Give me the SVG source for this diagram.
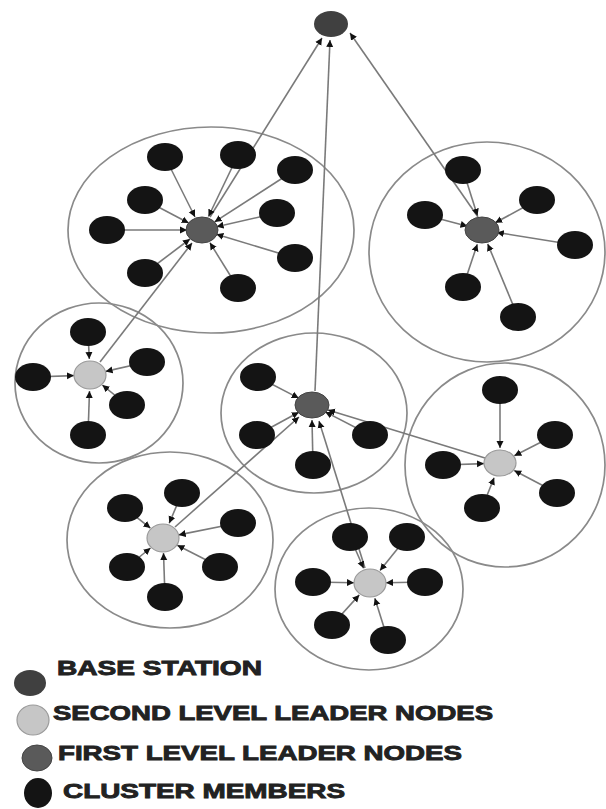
<svg xmlns="http://www.w3.org/2000/svg" width="606" height="809" viewBox="0 0 606 809">
<style>
.cl{fill:none;stroke:#8a8a8a;stroke-width:1.7}
.ln{stroke:#7a7a7a;stroke-width:1.6;fill:none}
.m{fill:#141414}
.bs{fill:#404040}
.f1{fill:#5a5a5a;stroke:#444;stroke-width:1}
.f2{fill:#c6c6c6;stroke:#9a9a9a;stroke-width:1.2}
.tx{font-family:"Liberation Sans",Arial,sans-serif;font-weight:bold;font-size:21px;fill:#222;stroke:#222;stroke-width:0.9}
</style>
<defs>
<marker id="ah" markerUnits="userSpaceOnUse" markerWidth="8" markerHeight="8" refX="7" refY="4" orient="auto">
<path d="M0,0.5 L7,4 L0,7.5 z" fill="#111"/>
</marker>
</defs>
<rect width="606" height="809" fill="#fff"/>
<g id="clusters">
<ellipse class="cl" cx="211" cy="230" rx="143" ry="103"/>
<ellipse class="cl" cx="487" cy="252" rx="118" ry="110"/>
<ellipse class="cl" cx="99" cy="383" rx="84" ry="80"/>
<ellipse class="cl" cx="314" cy="413" rx="93" ry="80"/>
<ellipse class="cl" cx="505" cy="465" rx="100" ry="102"/>
<ellipse class="cl" cx="170" cy="540" rx="103" ry="88"/>
<ellipse class="cl" cx="369" cy="589" rx="94" ry="81"/>
</g>
<g id="connectors" class="ln" marker-end="url(#ah)">
<!-- leaders to base station -->
<line x1="210" y1="217" x2="322" y2="38"/>
<line x1="478" y1="217" x2="350" y2="33"/>
<line x1="315" y1="391" x2="330" y2="40"/>
<!-- second level to first level -->
<line x1="100" y1="362" x2="192" y2="243"/>
<line x1="485" y1="458" x2="328" y2="410"/>
<line x1="175" y1="527" x2="299" y2="417"/>
<line x1="365" y1="568" x2="319" y2="421"/>
<!-- cluster 1 -->
<line x1="165" y1="157" x2="195" y2="217"/>
<line x1="238" y1="155" x2="208.5" y2="216.5"/>
<line x1="295" y1="170" x2="214.6" y2="221.9"/>
<line x1="145" y1="200" x2="188.7" y2="223"/>
<line x1="277" y1="213" x2="216.6" y2="226.7"/>
<line x1="107" y1="230" x2="187" y2="230"/>
<line x1="145" y1="273" x2="190" y2="239"/>
<line x1="295" y1="258" x2="216.4" y2="234.3"/>
<line x1="238" y1="288" x2="209.9" y2="242.7"/>
<!-- cluster 3 -->
<line x1="463" y1="170" x2="477.5" y2="215.7"/>
<line x1="537" y1="200" x2="495.2" y2="222.8"/>
<line x1="425" y1="215" x2="467.5" y2="226.2"/>
<line x1="575" y1="245" x2="496.8" y2="232.4"/>
<line x1="463" y1="287" x2="477.3" y2="244.2"/>
<line x1="518" y1="317" x2="487.7" y2="243.9"/>
<!-- cluster 4 -->
<line x1="258" y1="377" x2="298.7" y2="398.1"/>
<line x1="257" y1="435" x2="298.8" y2="412.2"/>
<line x1="370" y1="435" x2="325.3" y2="411.9"/>
<line x1="313" y1="465" x2="312" y2="420"/>
<!-- cluster 2 -->
<line x1="88" y1="332" x2="89.3" y2="359"/>
<line x1="147" y1="362" x2="105.6" y2="371.4"/>
<line x1="33" y1="377" x2="74" y2="375.6"/>
<line x1="127" y1="405" x2="102.4" y2="385.1"/>
<line x1="88" y1="435" x2="89.5" y2="391"/>
<!-- cluster 5 -->
<line x1="500" y1="390" x2="500" y2="448"/>
<line x1="555" y1="435" x2="514.3" y2="455.7"/>
<line x1="443" y1="465" x2="484" y2="463.6"/>
<line x1="557" y1="493" x2="514.2" y2="470.5"/>
<line x1="482" y1="508" x2="494.1" y2="477.8"/>
<!-- cluster 6 -->
<line x1="182" y1="493" x2="169.2" y2="523.2"/>
<line x1="125" y1="508" x2="150.4" y2="528.1"/>
<line x1="238" y1="523" x2="178.7" y2="534.9"/>
<line x1="127" y1="567" x2="150.5" y2="548"/>
<line x1="220" y1="567" x2="177.3" y2="545.3"/>
<line x1="165" y1="597" x2="163.5" y2="553"/>
<!-- cluster 7 -->
<line x1="350" y1="537" x2="363.6" y2="568.3"/>
<line x1="407" y1="537" x2="380" y2="570.5"/>
<line x1="313" y1="582" x2="354" y2="582.7"/>
<line x1="425" y1="582" x2="386" y2="582.7"/>
<line x1="332" y1="625" x2="359.3" y2="594.9"/>
<line x1="388" y1="640" x2="374.8" y2="598.2"/>
</g>
<g id="base-station"><ellipse class="bs" cx="331" cy="24" rx="17" ry="13"/></g>
<g id="leader-1"><ellipse class="f1" cx="202" cy="230" rx="16" ry="13"/></g>
<g id="leader-3"><ellipse class="f1" cx="482" cy="230" rx="17" ry="13"/></g>
<g id="leader-4"><ellipse class="f1" cx="312" cy="405" rx="17" ry="13"/></g>
<g id="leader-2"><ellipse class="f2" cx="90" cy="375" rx="16" ry="14"/></g>
<g id="leader-5"><ellipse class="f2" cx="500" cy="463" rx="16" ry="13"/></g>
<g id="leader-6"><ellipse class="f2" cx="163" cy="538" rx="16" ry="14"/></g>
<g id="leader-7"><ellipse class="f2" cx="370" cy="583" rx="16" ry="14"/></g>
<g id="members-1">
<ellipse class="m" cx="165" cy="157" rx="18" ry="14"/>
<ellipse class="m" cx="238" cy="155" rx="18" ry="14"/>
<ellipse class="m" cx="295" cy="170" rx="18" ry="14"/>
<ellipse class="m" cx="145" cy="200" rx="18" ry="14"/>
<ellipse class="m" cx="277" cy="213" rx="18" ry="14"/>
<ellipse class="m" cx="107" cy="230" rx="18" ry="14"/>
<ellipse class="m" cx="145" cy="273" rx="18" ry="14"/>
<ellipse class="m" cx="295" cy="258" rx="18" ry="14"/>
<ellipse class="m" cx="238" cy="288" rx="18" ry="14"/>
</g>
<g id="members-3">
<ellipse class="m" cx="463" cy="170" rx="18" ry="14"/>
<ellipse class="m" cx="537" cy="200" rx="18" ry="14"/>
<ellipse class="m" cx="425" cy="215" rx="18" ry="14"/>
<ellipse class="m" cx="575" cy="245" rx="18" ry="14"/>
<ellipse class="m" cx="463" cy="287" rx="18" ry="14"/>
<ellipse class="m" cx="518" cy="317" rx="18" ry="14"/>
</g>
<g id="members-2">
<ellipse class="m" cx="88" cy="332" rx="18" ry="14"/>
<ellipse class="m" cx="147" cy="362" rx="18" ry="14"/>
<ellipse class="m" cx="33" cy="377" rx="18" ry="14"/>
<ellipse class="m" cx="127" cy="405" rx="18" ry="14"/>
<ellipse class="m" cx="88" cy="435" rx="18" ry="14"/>
</g>
<g id="members-4">
<ellipse class="m" cx="258" cy="377" rx="18" ry="14"/>
<ellipse class="m" cx="257" cy="435" rx="18" ry="14"/>
<ellipse class="m" cx="370" cy="435" rx="18" ry="14"/>
<ellipse class="m" cx="313" cy="465" rx="18" ry="14"/>
</g>
<g id="members-5">
<ellipse class="m" cx="500" cy="390" rx="18" ry="14"/>
<ellipse class="m" cx="555" cy="435" rx="18" ry="14"/>
<ellipse class="m" cx="443" cy="465" rx="18" ry="14"/>
<ellipse class="m" cx="557" cy="493" rx="18" ry="14"/>
<ellipse class="m" cx="482" cy="508" rx="18" ry="14"/>
</g>
<g id="members-6">
<ellipse class="m" cx="182" cy="493" rx="18" ry="14"/>
<ellipse class="m" cx="125" cy="508" rx="18" ry="14"/>
<ellipse class="m" cx="238" cy="523" rx="18" ry="14"/>
<ellipse class="m" cx="127" cy="567" rx="18" ry="14"/>
<ellipse class="m" cx="220" cy="567" rx="18" ry="14"/>
<ellipse class="m" cx="165" cy="597" rx="18" ry="14"/>
</g>
<g id="members-7">
<ellipse class="m" cx="350" cy="537" rx="18" ry="14"/>
<ellipse class="m" cx="407" cy="537" rx="18" ry="14"/>
<ellipse class="m" cx="313" cy="582" rx="18" ry="14"/>
<ellipse class="m" cx="425" cy="582" rx="18" ry="14"/>
<ellipse class="m" cx="332" cy="625" rx="18" ry="14"/>
<ellipse class="m" cx="388" cy="640" rx="18" ry="14"/>
</g>
<g id="legend">
<ellipse class="bs" cx="30" cy="683" rx="16" ry="13"/>
<ellipse class="f2" cx="33" cy="720" rx="16" ry="15"/>
<ellipse class="f1" cx="37" cy="758" rx="15" ry="13"/>
<ellipse class="m" cx="38" cy="793" rx="14" ry="15"/>
<text class="tx" x="57" y="675" textLength="205" lengthAdjust="spacingAndGlyphs">BASE STATION</text>
<text class="tx" x="53" y="720" textLength="440" lengthAdjust="spacingAndGlyphs">SECOND LEVEL LEADER NODES</text>
<text class="tx" x="58" y="760" textLength="404" lengthAdjust="spacingAndGlyphs">FIRST LEVEL LEADER NODES</text>
<text class="tx" x="63" y="798" textLength="282" lengthAdjust="spacingAndGlyphs">CLUSTER MEMBERS</text>
</g>
</svg>
